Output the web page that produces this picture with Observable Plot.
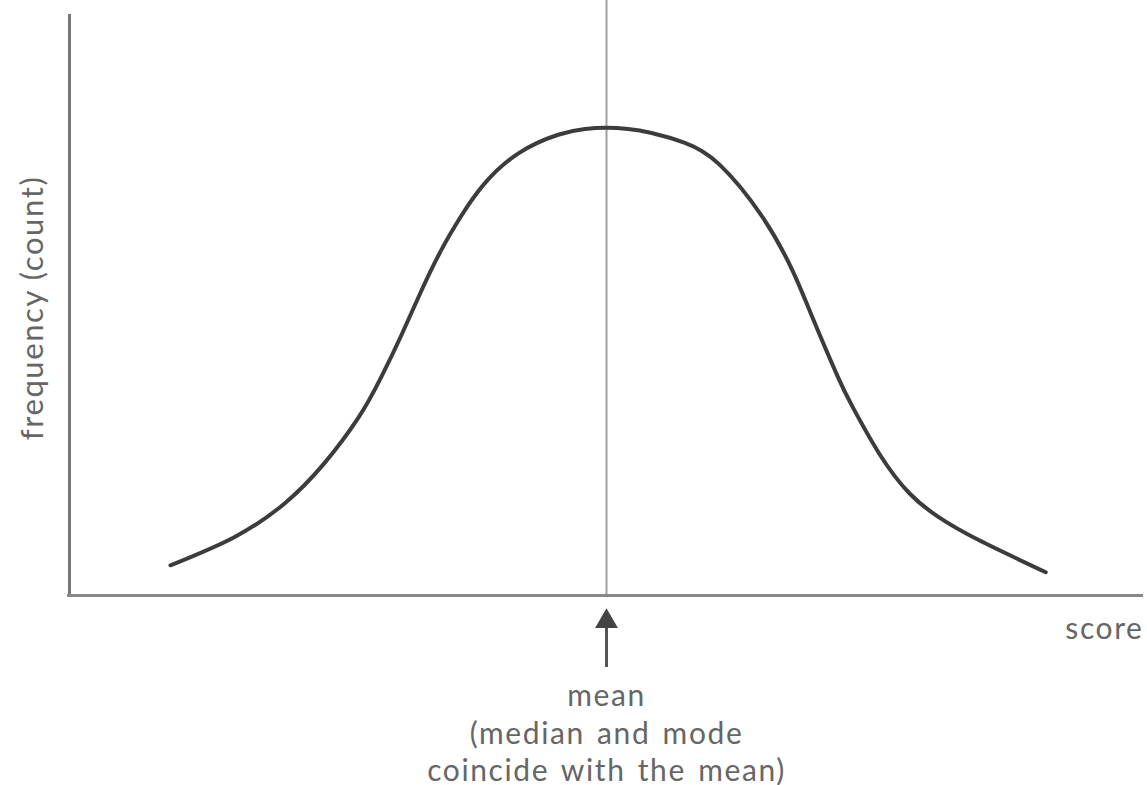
<!DOCTYPE html>
<html>
<head>
<meta charset="utf-8">
<script src="https://cdn.jsdelivr.net/npm/d3@7"></script>
<script src="https://cdn.jsdelivr.net/npm/@observablehq/plot@0.6"></script>
<style>
  html, body { margin: 0; padding: 0; background: #fff; }
  #chart svg { display: block; }
  #chart svg g.caption text { letter-spacing: 1.6px; word-spacing: 3px; }
  #chart svg g.label text { letter-spacing: 1.6px; }
</style>
</head>
<body>
<div id="chart"></div>
<script>
// Curve: score (0–100 along the x axis), frequency (0–100 along the y axis)
const scores = [9.4, 15.3, 20.0, 23.7, 26.9, 29.0, 30.9, 32.7, 34.6, 36.5, 38.6, 41.8, 45.5, 48.0, 50.0,
                52.0, 54.2, 57.3, 60.5, 64.5, 67.3, 69.1, 71.5, 72.9, 75.4, 78.2, 81.0, 84.7, 90.9];
const freqs  = [5.2, 10.0, 15.8, 22.7, 30.6, 37.5, 44.8, 52.2, 59.4, 65.4, 70.8, 76.1, 79.3, 80.3, 80.5,
                80.3, 79.6, 77.9, 74.2, 65.2, 56.0, 48.2, 37.8, 32.5, 24.4, 17.6, 13.4, 9.5, 4.0];
const meanScore = 50;
const xLabel = "score";
const yLabel = "frequency (count)";
const meanLabel = "mean\n(median and mode\ncoincide with the mean)";

const curve = scores.map((s, i) => ({score: s, freq: freqs[i]}));

const textColor = "#666";
const fontSize = 30;

const chart = Plot.plot({
  width: 1147,
  height: 785,
  marginLeft: 69,
  marginRight: 4,
  marginTop: 14,
  marginBottom: 190,
  x: {domain: [0, 100], axis: null},
  y: {domain: [0, 100], axis: null},
  style: {fontFamily: "Lato, 'Open Sans', sans-serif", background: "#fff", overflow: "visible"},
  marks: [
    // mean line (extends to top of image)
    Plot.ruleX([meanScore], {stroke: "#a0a0a0", strokeWidth: 2, insetTop: -14}),
    // axes
    Plot.ruleX([0], {stroke: "#777", strokeWidth: 3}),
    Plot.ruleY([0], {stroke: "#888", strokeWidth: 3, insetLeft: -2}),
    // bell curve
    Plot.line(curve, {x: "score", y: "freq", curve: "natural", stroke: "#3c3c3c", strokeWidth: 4}),
    // arrow shaft + head below the axis
    Plot.ruleX([meanScore], {stroke: "#555", strokeWidth: 3, insetTop: 606, insetBottom: -72}),
    Plot.dot([meanScore], {x: d => d, frameAnchor: "bottom", symbol: "triangle", r: 8.5, fill: "#444", stroke: "none", dy: 26}),
    // labels
    Plot.text([meanLabel], {x: () => meanScore, text: d => d, frameAnchor: "bottom", lineAnchor: "top",
      dy: 84, fontSize, lineHeight: 1.25, fill: textColor, className: "caption"}),
    Plot.text([xLabel], {frameAnchor: "bottom-right", textAnchor: "end", lineAnchor: "top",
      dy: 22, fontSize, fill: textColor, className: "label"}),
    Plot.text([yLabel], {frameAnchor: "left", textAnchor: "middle", rotate: -90, dx: -36, dy: 3,
      fontSize: 31, fill: textColor, className: "label"})
  ]
});
document.getElementById("chart").appendChild(chart);
</script>
</body>
</html>
